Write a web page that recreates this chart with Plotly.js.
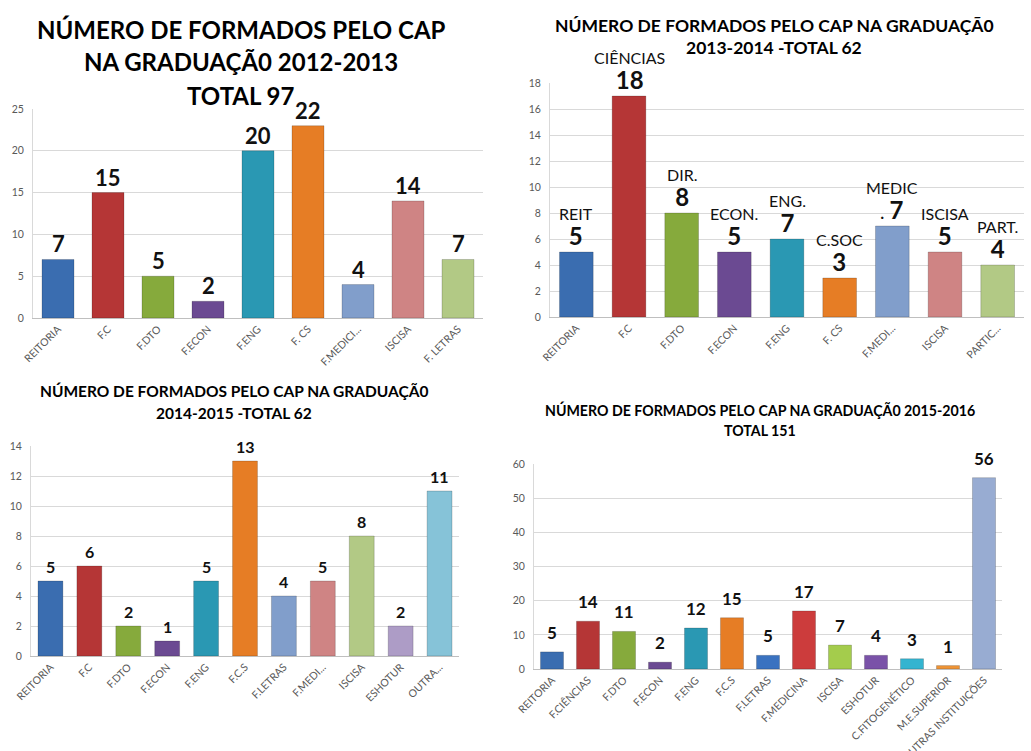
<!DOCTYPE html>
<html>
<head>
<meta charset="utf-8">
<script src="https://cdn.plot.ly/plotly-3.0.1.min.js"></script>
<style>html,body{margin:0;padding:0;background:#fff;}#chart{width:1031px;height:751px;}</style>
</head>
<body>
<div id="chart"></div>
<script>
// ---- Chart 1: 2012-2013 ----
const cats1 = ["REITORIA", "F.C", "F.DTO", "F.ECON", "F.ENG", "F. CS", "F.MEDICI...", "ISCISA", "F. LETRAS"];
const vals1 = [7, 15, 5, 2, 20, 23, 4, 14, 7];
const labels1 = ["7", "15", "5", "2", "20", "22", "4", "14", "7"];
const cols1 = ["#3a6db0", "#b53636", "#86aa3c", "#6b4a92", "#2a98b3", "#e67d25", "#819ecb", "#cf8484", "#b2c985"];

// ---- Chart 2: 2013-2014 ----
const cats2 = ["REITORIA", "F.C", "F.DTO", "F.ECON", "F.ENG", "F. CS", "F.MEDI...", "ISCISA", "PARTIC..."];
const vals2 = [5, 17, 8, 5, 6, 3, 7, 5, 4];
const names2 = ["REIT", "CIÊNCIAS", "DIR.", "ECON.", "ENG.", "C.SOC", "MEDIC", "ISCISA", "PART."];
const nums2 = ["5", "18", "8", "5", "7", "3", "7", "5", "4"];
const prefix2 = ["", "", "", "", "", "", ". ", "", ""];
const cols2 = ["#3a6db0", "#b53636", "#86aa3c", "#6b4a92", "#2a98b3", "#e67d25", "#819ecb", "#cf8484", "#b2c985"];

// ---- Chart 3: 2014-2015 ----
const cats3 = ["REITORIA", "F.C", "F.DTO", "F.ECON", "F.ENG", "F.C.S", "F.LETRAS", "F.MEDI...", "ISCISA", "ESHOTUR", "OUTRA..."];
const vals3 = [5, 6, 2, 1, 5, 13, 4, 5, 8, 2, 11];
const labels3 = ["5", "6", "2", "1", "5", "13", "4", "5", "8", "2", "11"];
const cols3 = ["#3a6db0", "#b53636", "#86aa3c", "#6b4a92", "#2a98b3", "#e67d25", "#819ecb", "#cf8484", "#b2c985", "#ad9cc6", "#86c3d8"];

// ---- Chart 4: 2015-2016 ----
const cats4 = ["REITORIA", "F.CIÊNCIAS", "F.DTO", "F.ECON", "F.ENG", "F.C.S", "F.LETRAS", "F.MEDICINA", "ISCISA", "ESHOTUR", "C.FITOGENÉTICO", "M.E.SUPERIOR", "OUTRAS INSTITUIÇÕES"];
const vals4 = [5, 14, 11, 2, 12, 15, 4, 17, 7, 4, 3, 1, 56];
const labels4 = ["5", "14", "11", "2", "12", "15", "5", "17", "7", "4", "3", "1", "56"];
const cols4 = ["#3a6db0", "#b53636", "#86aa3c", "#6b4a92", "#2a98b3", "#e67d25", "#3a72c0", "#cc3c3c", "#a4cc4c", "#7a52a8", "#34b4d0", "#ee9436", "#98acd2"];

const titles = [
  {lines: ["NÚMERO DE FORMADOS PELO CAP", "NA GRADUAÇÃ0 2012-2013", "TOTAL 97"], x: 241, y: [30, 62, 95], size: 24},
  {lines: ["NÚMERO DE FORMADOS PELO CAP NA GRADUAÇÃ0", "2013-2014 -TOTAL 62"], x: 774, y: [26, 48], size: 17.5},
  {lines: ["NÚMERO DE FORMADOS PELO CAP NA GRADUAÇÃ0", "2014-2015 -TOTAL 62"], x: 234, y: [391, 413], size: 15.5},
  {lines: ["NÚMERO DE FORMADOS PELO CAP NA GRADUAÇÃ0 2015-2016", "TOTAL 151"], x: 760, y: [410, 430], size: 14.2}
];

const W = 1031, H = 751;
const FONT = "Lato, 'Open Sans', sans-serif";

const texts2 = names2.map((n, i) => '<span style="font-size:16px">' + n + '</span><br>' + prefix2[i] +
  '<b><span style="font-size:24px">' + nums2[i] + '</span></b>');

function barTrace(cats, vals, cols, ax) {
  return {
    type: 'bar', x: cats, y: vals,
    marker: {color: cols, line: {color: 'rgba(0,0,0,0.18)', width: 1}},
    xaxis: 'x' + (ax === 1 ? '' : ax), yaxis: 'y' + (ax === 1 ? '' : ax),
    hoverinfo: 'skip'
  };
}

const data = [
  barTrace(cats1, vals1, cols1, 1),
  barTrace(cats2, vals2, cols2, 2),
  barTrace(cats3, vals3, cols3, 3),
  barTrace(cats4, vals4, cols4, 4)
];

function dx(a, b) { return [a / W, b / W]; }
function dy(top, bottom) { return [1 - bottom / H, 1 - top / H]; }

function xa(domain, anchor) {
  return {domain: domain, anchor: anchor, tickangle: -45, tickfont: {family: FONT, size: 10.5, color: '#595959'},
          showline: true, linecolor: '#bfbfbf', linewidth: 1, showgrid: false, ticks: '', fixedrange: true};
}
function ya(domain, anchor, range, dtick) {
  return {domain: domain, anchor: anchor, range: range, dtick: dtick, tickfont: {family: FONT, size: 10.5, color: '#595959'},
          showgrid: true, gridcolor: '#d9d9d9', gridwidth: 1, showline: true, linecolor: '#d9d9d9', zeroline: false,
          ticks: '', ticklabelstandoff: 6, fixedrange: true};
}

const annotations = [];
titles.forEach(t => {
  t.lines.forEach((ln, i) => {
    annotations.push({xref: 'paper', yref: 'paper', x: t.x / W, y: 1 - t.y[i] / H, xanchor: 'center', yanchor: 'middle',
      text: '<b>' + ln + '</b>', showarrow: false, font: {family: FONT, size: t.size, color: '#000'}});
  });
});

// value labels placed at each bar top via the axis scales
function addLabels(cats, vals, texts, ax, size, bold, shift) {
  const suf = ax === 1 ? '' : String(ax);
  cats.forEach((c, i) => {
    annotations.push({xref: 'x' + suf, yref: 'y' + suf, x: c, y: vals[i], xanchor: 'center', yanchor: 'bottom',
      yshift: shift, showarrow: false, text: bold ? '<b>' + texts[i] + '</b>' : texts[i],
      font: {family: FONT, size: size, color: '#111'}});
  });
}
addLabels(cats1, vals1, labels1, 1, 22, true, 0);
addLabels(cats2, vals2, texts2, 2, 19, false, 0);
addLabels(cats3, vals3, labels3, 3, 16, true, 3);
addLabels(cats4, vals4, labels4, 4, 17, true, 7);

const layout = {
  width: W, height: H, margin: {l: 0, r: 0, t: 0, b: 0}, showlegend: false,
  paper_bgcolor: '#fff', plot_bgcolor: '#fff', font: {family: FONT},
  xaxis: xa(dx(33, 483), 'y'), yaxis: ya(dy(109, 318), 'x', [0, 25], 5),
  xaxis2: xa(dx(550, 1024), 'y2'), yaxis2: ya(dy(83, 317), 'x2', [0, 18], 2),
  xaxis3: xa(dx(31, 459), 'y3'), yaxis3: ya(dy(446, 656), 'x3', [0, 14], 2),
  xaxis4: xa(dx(534, 1002), 'y4'), yaxis4: ya(dy(464, 669), 'x4', [0, 60], 10),
  bargap: 0.36,
  annotations: annotations
};

Plotly.newPlot('chart', data, layout, {displayModeBar: false, staticPlot: true});
</script>
</body>
</html>
